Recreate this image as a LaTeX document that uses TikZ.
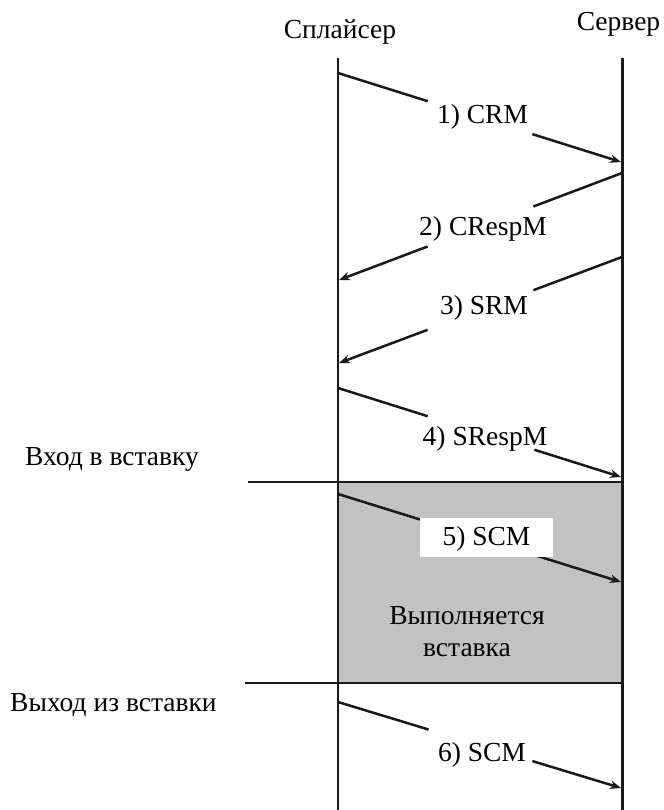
\documentclass[tikz,border=0pt]{standalone}
\usepackage{fontspec}
\setmainfont{Liberation Serif}
\usetikzlibrary{arrows.meta,calc}
\definecolor{boxgray}{HTML}{C2C2C2}
\tikzset{
  lifeline/.style={line width=2.8pt, draw=black!90},
  msgline/.style={line width=2.5pt, draw=black!90},
  msgarrow/.style={msgline, -{Stealth[length=11pt,width=8.5pt]}},
  lbl/.style={font=\fontsize{27.5}{32}\selectfont, inner sep=0pt, anchor=base},
  sidelbl/.style={font=\fontsize{27.5}{32}\selectfont, inner sep=0pt, anchor=base west},
  sepline/.style={line width=2.4pt, draw=black!90},
}
\begin{document}
\begin{tikzpicture}[x=1pt,y=-1pt]
\useasboundingbox (0,0) rectangle (663,810);
% headers
\node[lbl] (hsp) at (340,39) {Сплайсер};
\node[lbl] (hsv) at (618.5,31) {Сервер};
% insertion region
\fill[boxgray] (338,482) rectangle (622.5,683);
% lifeline coordinates
\coordinate (sptop) at (338,58);
\coordinate (spbot) at (338,810);
\coordinate (svtop) at (622.5,58);
\coordinate (svbot) at (622.5,810);
\draw[lifeline] (sptop) -- (spbot);
\draw[lifeline, line width=3.2pt] (svtop) -- (svbot);
% entry / exit lines
\coordinate (inL) at (248,482);
\coordinate (inR) at (622.5,482);
\coordinate (outL) at (245,683);
\coordinate (outR) at (622.5,683);
\draw[sepline] (inL) -- (inR);
\draw[sepline] (outL) -- (outR);
\node[sidelbl] (inlbl) at (25,465) {Вход в вставку};
\node[sidelbl] (outlbl) at (10,711) {Выход из вставки};
% messages
\coordinate (s1) at (338,73);   \coordinate (e1) at (621,162);
\coordinate (s2) at (622,173);  \coordinate (e2) at (339,280);
\coordinate (s3) at (622,257);  \coordinate (e3) at (339,363);
\coordinate (s4) at (338,388);  \coordinate (e4) at (621,477);
\coordinate (s5) at (338,494);  \coordinate (e5) at (621,582);
\coordinate (s6) at (338,702);  \coordinate (e6) at (621,788);
% 1
\draw[msgline] (s1) -- ($(s1)!0.317!(e1)$);
\draw[msgarrow] ($(s1)!0.687!(e1)$) -- (e1);
\node[lbl] (m1) at (482.5,124) {1) CRM};
% 2
\draw[msgline] (s2) -- ($(s2)!0.313!(e2)$);
\draw[msgarrow] ($(s2)!0.687!(e2)$) -- (e2);
\node[lbl] (m2) at (483,235.5) {2) CRespM};
% 3
\draw[msgline] (s3) -- ($(s3)!0.313!(e3)$);
\draw[msgarrow] ($(s3)!0.687!(e3)$) -- (e3);
\node[lbl] (m3) at (484,314) {3) SRM};
% 4
\draw[msgline] (s4) -- ($(s4)!0.317!(e4)$);
\draw[msgarrow] ($(s4)!0.694!(e4)$) -- (e4);
\node[lbl] (m4) at (485,445) {4) SRespM};
% 5
\draw[msgline] (s5) -- ($(s5)!0.317!(e5)$);
\draw[msgarrow] ($(s5)!0.687!(e5)$) -- (e5);
\fill[white] (420,518) rectangle (553,557);
\node[lbl] (m5) at (486.5,545) {5) SCM};
% 6
\draw[msgline] (s6) -- ($(s6)!0.32!(e6)$);
\draw[msgarrow] ($(s6)!0.687!(e6)$) -- (e6);
\node[lbl] (m6) at (482,761.5) {6) SCM};
% inside text
\node[lbl] (run1) at (467,624) {Выполняется};
\node[lbl] (run2) at (467,656.5) {вставка};
\end{tikzpicture}
\end{document}
